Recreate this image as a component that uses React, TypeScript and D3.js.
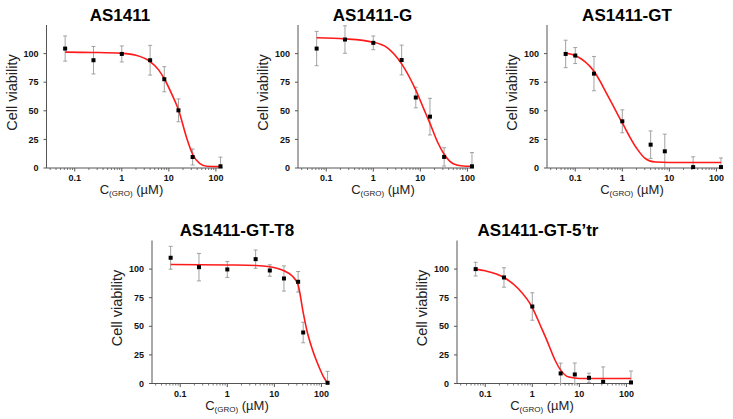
import React from "react";
import * as d3 from "d3";

// ---------- data ----------
const panelTitles = ["AS1411", "AS1411-G", "AS1411-GT", "AS1411-GT-T8", "AS1411-GT-5’tr"];

const conc1 = [0.0625, 0.25, 1, 4, 8, 16, 32, 125];
const via1 = [104.4, 94.2, 99.7, 94.2, 77.6, 50.4, 9.6, 1.5];
const err1 = [11, 12, 7, 13, 11, 10, 7, 8];
const fitX1 = [0.0625, 0.25, 1, 2, 4, 6, 8, 12, 16, 24, 32, 45, 64, 125];
const fitY1 = [101.3, 101, 100.2, 98.5, 93, 86, 78, 63, 51, 26, 12, 4, 1.5, 1.2];

const conc2 = [0.0625, 0.25, 1, 4, 8, 16, 32, 125];
const via2 = [104.4, 112.3, 109.4, 94.4, 61.6, 44.9, 9.7, 1.5];
const err2 = [15, 12, 6, 13, 9, 16, 8, 12];
const fitX2 = [0.0625, 0.25, 1, 2, 4, 8, 12, 16, 24, 32, 50, 80, 125];
const fitY2 = [113.8, 112.9, 110, 105, 91, 68, 51, 39, 21.4, 12, 3.8, 1.8, 1.5];

const conc3 = [0.0625, 0.1, 0.25, 1, 4, 8, 32, 125];
const via3 = [99.7, 98.3, 82.5, 40.8, 20.4, 14.6, 0.8, 0.8];
const err3 = [12, 7, 15, 10, 12, 15, 9, 8];
const fitX3 = [0.0625, 0.1, 0.25, 0.5, 1, 2, 3, 5, 10, 125];
const fitY3 = [100.6, 98.3, 84.5, 62.7, 39.4, 17.5, 8.7, 5.2, 4.8, 4.8];

const conc4 = [0.0625, 0.25, 1, 4, 8, 16, 32, 41, 135];
const via4 = [109.9, 101.7, 99.7, 108.7, 98.8, 91.8, 88.9, 44.6, 0.6];
const err4 = [10, 12, 7, 8, 5, 11, 9, 9, 10];
const fitX4 = [0.0625, 1, 4, 8, 16, 24, 32, 41, 50, 64, 90, 110, 135];
const fitY4 = [104, 103.6, 103.2, 102, 98.5, 94, 86, 62, 45, 30, 14, 6, 0.5];

const conc5 = [0.0625, 0.25, 1, 4, 8, 16, 32, 125];
const via5 = [100, 92.7, 67.3, 8.8, 7.9, 5, 1.5, 0.9];
const err5 = [6, 8.5, 12, 9, 10, 4, 13, 10];
const fitX5 = [0.0625, 0.1, 0.25, 0.5, 1, 1.5, 2, 3, 4, 6, 10, 125];
const fitY5 = [100, 98.5, 92.7, 83, 66.4, 50.3, 38.6, 21, 11.7, 5.6, 4.4, 4.4];

const xMajorTicks = [0.1, 1, 10, 100];
const xTickLabels = ["0.1", "1", "10", "100"];
const yTicks = [0, 25, 50, 75, 100];
const xDomain = [0.0251, 138];
const yDomain = [0, 125];

// ---------- layout ----------
const W = 733;
const H = 419;
const PW = 176;
const PH = 143;
const layouts = [
  { left: 46.5, top: 25, titleX: 120, titleY: 21 },
  { left: 298, top: 25, titleX: 372.5, titleY: 21 },
  { left: 547, top: 25, titleX: 627, titleY: 21 },
  { left: 152, top: 240.5, titleX: 237, titleY: 236 },
  { left: 457, top: 240.5, titleX: 538, titleY: 236 },
];

const panels = [
  { conc: conc1, via: via1, err: err1, fx: fitX1, fy: fitY1 },
  { conc: conc2, via: via2, err: err2, fx: fitX2, fy: fitY2 },
  { conc: conc3, via: via3, err: err3, fx: fitX3, fy: fitY3 },
  { conc: conc4, via: via4, err: err4, fx: fitX4, fy: fitY4 },
  { conc: conc5, via: via5, err: err5, fx: fitX5, fy: fitY5 },
];

const FONT = "'Liberation Sans', Arial, Helvetica, sans-serif";
const AXIS = "#555";

function minorTicks(): number[] {
  const out: number[] = [];
  for (let e = -2; e <= 2; e++) {
    for (let m = 2; m <= 9; m++) {
      const v = m * Math.pow(10, e);
      if (v >= xDomain[0] && v <= xDomain[1]) out.push(v);
    }
  }
  return out;
}

function Panel({ idx }: { idx: number }) {
  const L = layouts[idx];
  const P = panels[idx];
  const x = d3.scaleLog().domain(xDomain).range([L.left, L.left + PW]);
  const y = d3.scaleLinear().domain(yDomain).range([L.top + PH, L.top]);
  const bottom = L.top + PH;
  const fitPts: [number, number][] = P.fx.map((v, i) => [x(v), y(P.fy[i])]);
  const path = d3.line().curve(d3.curveMonotoneX)(fitPts) || "";
  const cx = L.left + PW / 2;
  const cy = L.top + PH / 2;
  return (
    <g>
      <text x={L.titleX} y={L.titleY} textAnchor="middle" fontFamily={FONT} fontWeight="bold" fontSize={17} fill="#000">
        {panelTitles[idx]}
      </text>
      {/* axes */}
      <line x1={L.left} x2={L.left} y1={L.top} y2={bottom} stroke={AXIS} strokeWidth={1} />
      <line x1={L.left} x2={L.left + PW} y1={bottom} y2={bottom} stroke={AXIS} strokeWidth={1} />
      {yTicks.map((t) => (
        <g key={"y" + t}>
          <line x1={L.left - 3} x2={L.left} y1={y(t)} y2={y(t)} stroke={AXIS} strokeWidth={1} />
          <text x={L.left - 8} y={y(t)} dy="0.35em" textAnchor="end" fontFamily={FONT} fontWeight="bold" fontSize={9} fill="#111">
            {t}
          </text>
        </g>
      ))}
      {minorTicks().map((t) => (
        <line key={"m" + t} x1={x(t)} x2={x(t)} y1={bottom} y2={bottom + 2} stroke={AXIS} strokeWidth={0.8} />
      ))}
      {xMajorTicks.map((t, i) => (
        <g key={"x" + t}>
          <line x1={x(t)} x2={x(t)} y1={bottom} y2={bottom + 3.5} stroke={AXIS} strokeWidth={1} />
          <text x={x(t)} y={bottom + 13} textAnchor="middle" fontFamily={FONT} fontWeight="bold" fontSize={9} fill="#111">
            {xTickLabels[i]}
          </text>
        </g>
      ))}
      <text
        transform={`translate(${L.left - 30},${cy - 4}) rotate(-90)`}
        textAnchor="middle"
        fontFamily={FONT}
        fontSize={14.5}
        fill="#222"
      >
        Cell viability
      </text>
      <text x={cx - 3} y={bottom + 26} textAnchor="middle" fontFamily={FONT} fontSize={13} fill="#222">
        C<tspan fontSize={8} dy={2}>(GRO)</tspan>
        <tspan dy={-2}> (µM)</tspan>
      </text>
      {/* error bars */}
      {P.conc.map((c, i) => {
        const px = x(c);
        const lo = Math.max(0, P.via[i] - P.err[i]);
        const hi = Math.min(125, P.via[i] + P.err[i]);
        return (
          <g key={"e" + i} stroke="#999" strokeWidth={0.9}>
            <line x1={px} x2={px} y1={y(lo)} y2={y(hi)} />
            <line x1={px - 2} x2={px + 2} y1={y(hi)} y2={y(hi)} />
            <line x1={px - 2} x2={px + 2} y1={y(lo)} y2={y(lo)} />
          </g>
        );
      })}
      <path d={path} fill="none" stroke="#ff1a1a" strokeWidth={1.6} />
      {P.conc.map((c, i) => (
        <rect key={"p" + i} x={x(c) - 2} y={y(P.via[i]) - 2} width={4} height={4} fill="#000" />
      ))}
    </g>
  );
}

export default function App() {
  return (
    <svg
      width={W}
      height={H}
      viewBox={`0 0 ${W} ${H}`}
      style={{ position: "absolute", left: 0, top: 0, background: "#fff" }}
    >
      <rect width={W} height={H} fill="#fff" />
      {panels.map((_, i) => (
        <Panel key={i} idx={i} />
      ))}
    </svg>
  );
}
